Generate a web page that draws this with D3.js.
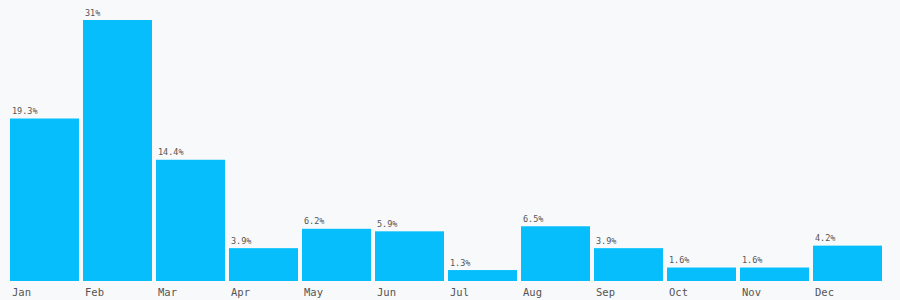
<!DOCTYPE html>
<html><head><meta charset="utf-8">
<script src="https://cdn.jsdelivr.net/npm/d3@7"></script>
<style>html,body{margin:0;padding:0;background:#f8f9fb;}svg{display:block;}</style>
</head><body><svg id="c" width="900" height="300"></svg>
<script>
const months = ["Jan","Feb","Mar","Apr","May","Jun","Jul","Aug","Sep","Oct","Nov","Dec"];
const values = [19.3,31,14.4,3.9,6.2,5.9,1.3,6.5,3.9,1.6,1.6,4.2];
const labels = ["19.3%","31%","14.4%","3.9%","6.2%","5.9%","1.3%","6.5%","3.9%","1.6%","1.6%","4.2%"];

const svg = d3.select("#c");
const x = d3.scaleBand().domain(months).range([10,882]).paddingInner(4/73).paddingOuter(0);
const y = d3.scaleLinear().domain([0,31]).range([281,20]);
const font = "'DejaVu Sans Mono', monospace";

svg.append("rect").attr("width",900).attr("height",300).attr("fill","#f8f9fb");
svg.selectAll("rect.bar").data(months).join("rect").attr("class","bar")
  .attr("x",d=>x(d)).attr("width",x.bandwidth())
  .attr("y",(d,i)=>y(values[i])).attr("height",(d,i)=>y(0)-y(values[i]))
  .attr("fill","#05befb");
svg.selectAll("text.val").data(months).join("text").attr("class","val")
  .attr("x",d=>x(d)+2).attr("y",(d,i)=>y(values[i])-4.5)
  .attr("font-family",font).attr("font-size",8.5).attr("fill","#555")
  .text((d,i)=>labels[i]);
const ax = svg.append("g").attr("transform","translate(0,281)")
  .call(d3.axisBottom(x).tickSize(0).tickPadding(0));
ax.select(".domain").remove();
ax.selectAll(".tick").attr("transform",d=>`translate(${x(d)},0)`);
ax.selectAll(".tick text").attr("text-anchor","start").attr("x",2).attr("y",15).attr("dy",0)
  .attr("font-family",font).attr("font-size",10.5).attr("fill","#555");
</script></body></html>
